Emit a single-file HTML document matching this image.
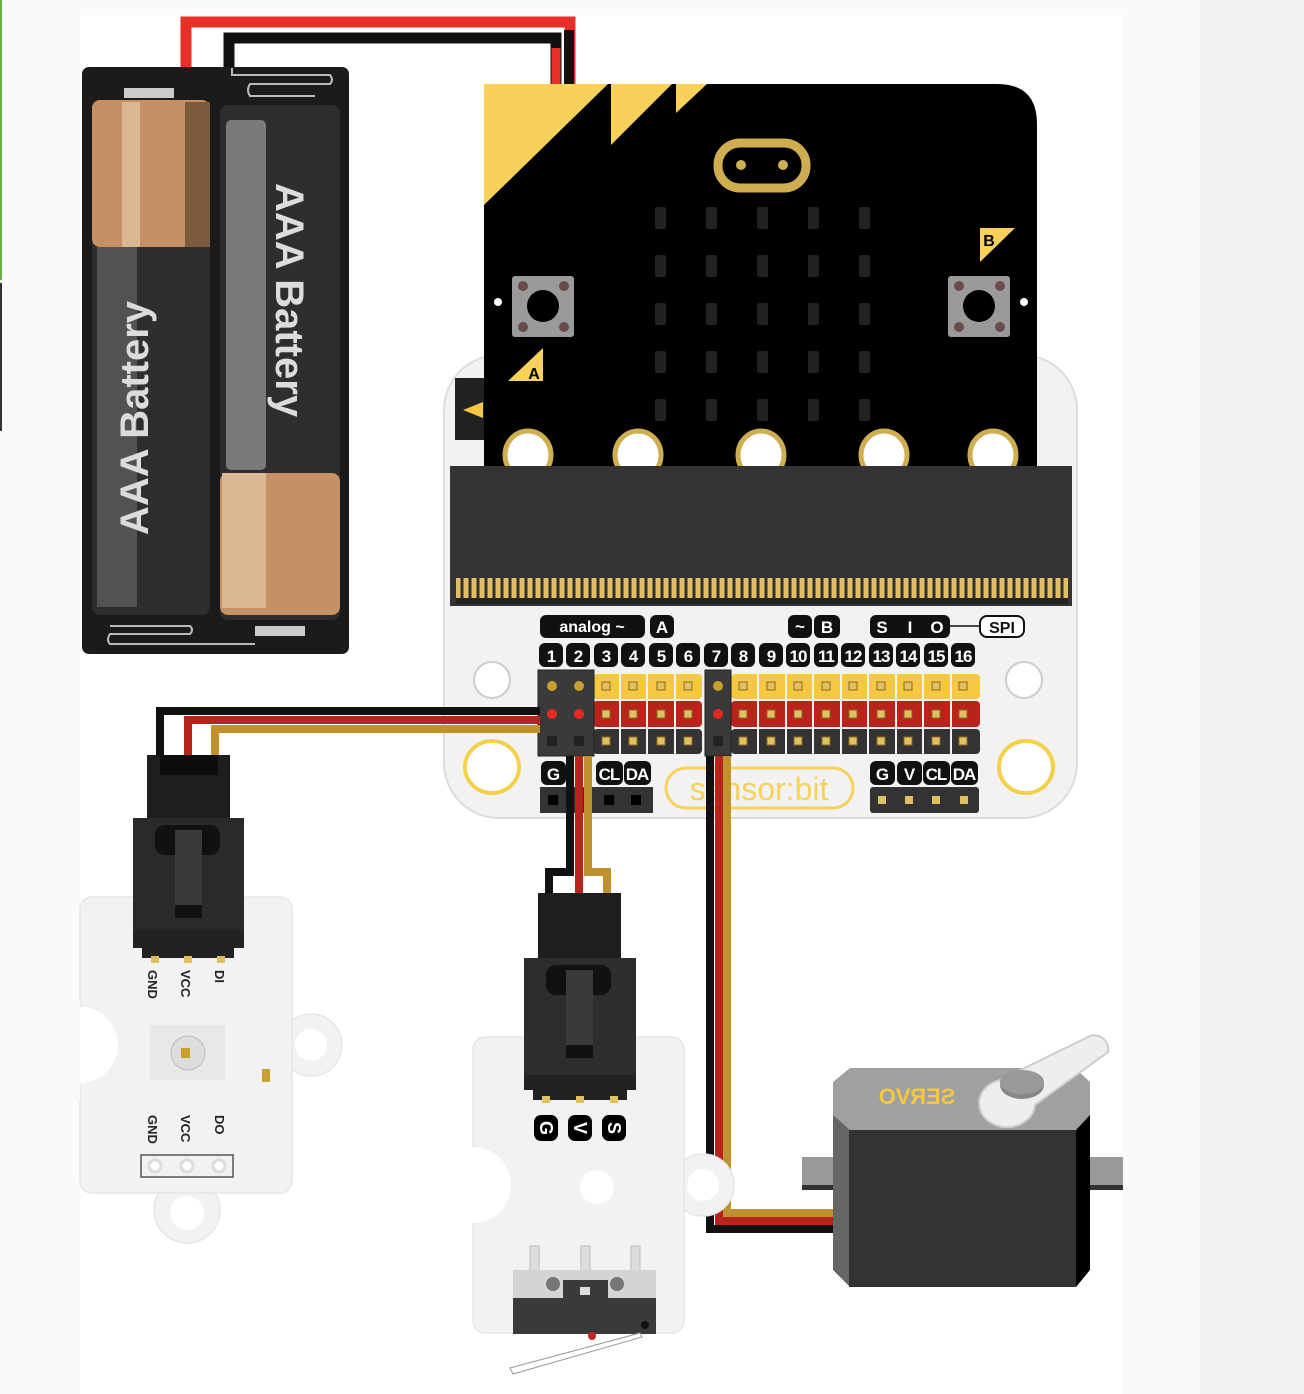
<!DOCTYPE html>
<html><head><meta charset="utf-8"><style>
html,body{margin:0;padding:0;background:#fafafa}
svg{display:block}
text{font-family:"Liberation Sans",sans-serif;font-weight:bold}
</style></head><body>
<svg width="1304" height="1394" viewBox="0 0 1304 1394" xmlns="http://www.w3.org/2000/svg">
<rect width="1304" height="1394" fill="#fafafa"/>
<rect x="80" y="15" width="1043" height="1379" fill="#ffffff"/>
<rect x="1200" y="0" width="104" height="1394" fill="#f1f1f1"/>

<!-- battery wires -->
<polyline points="186,70 186,22 570,22 570,84" fill="none" stroke="#e8302a" stroke-width="11"/>
<polyline points="229,70 229,38 556,38 556,84" fill="none" stroke="#111" stroke-width="11"/>
<line x1="556" y1="48" x2="556" y2="84" stroke="#e8302a" stroke-width="9"/>
<line x1="569" y1="30" x2="569" y2="84" stroke="#111" stroke-width="10"/>

<!-- battery holder -->
<rect x="82" y="67" width="267" height="587" rx="7" fill="#1b1b1b"/>
<rect x="92" y="100" width="118" height="515" rx="8" fill="#2e2e2e"/>
<rect x="92" y="100" width="118" height="147" rx="8" fill="#c59064"/>
<rect x="122" y="102" width="18" height="145" fill="#dbb894"/>
<rect x="185" y="102" width="25" height="145" fill="#7c5a3c"/>
<rect x="97" y="247" width="40" height="360" fill="#6a6a6a" opacity="0.6"/>
<rect x="220" y="105" width="120" height="515" rx="8" fill="#2e2e2e"/>
<rect x="226" y="120" width="40" height="350" rx="5" fill="#7a7a7a"/>
<rect x="220" y="473" width="120" height="142" rx="8" fill="#c59064"/>
<rect x="222" y="473" width="44" height="135" fill="#dbb894"/>
<rect x="124" y="88" width="50" height="10" fill="#ccc"/>
<rect x="255" y="626" width="50" height="10" fill="#ccc"/>
<path d="M232,68 L232,75 L330,75 Q334,80 330,84 L250,84 Q246,90 250,96 L315,96" fill="none" stroke="#bbb" stroke-width="2"/>
<path d="M110,626 L190,626 Q194,630 190,634 L110,634 Q106,640 110,644 L255,644" fill="none" stroke="#bbb" stroke-width="2"/>
<text x="0" y="0" transform="translate(148,418) rotate(-90)" font-size="40" fill="#dcdcdc" text-anchor="middle">AAA Battery</text>
<text x="0" y="0" transform="translate(276,300) rotate(90)" font-size="40" fill="#dcdcdc" text-anchor="middle">AAA Battery</text>

<!-- expansion board -->
<rect x="444" y="355" width="633" height="463" rx="55" fill="#f2f2f2" stroke="#ddd" stroke-width="2"/>
<rect x="455" y="378" width="30" height="62" fill="#222"/>
<polygon points="463,410 483,402 483,418" fill="#f5c842"/>
<path d="M484,124 Q484,84 524,84 L997,84 Q1037,84 1037,124 L1037,470 L484,470 Z" fill="#000"/>
<polygon points="484,84 608,84 484,205" fill="#f7d15a"/>
<polygon points="611,84 672,84 611,145" fill="#f7d15a"/>
<polygon points="676,84 707,84 676,113" fill="#f7d15a"/>
<rect x="718" y="143" width="88" height="45" rx="22" fill="none" stroke="#cfae52" stroke-width="9"/>
<circle cx="741" cy="165" r="5" fill="#cfae52"/><circle cx="783" cy="165" r="5" fill="#cfae52"/>
<g fill="#222">
<rect x="655" y="207" width="11" height="22" rx="2"/><rect x="706" y="207" width="11" height="22" rx="2"/><rect x="757" y="207" width="11" height="22" rx="2"/><rect x="808" y="207" width="11" height="22" rx="2"/><rect x="859" y="207" width="11" height="22" rx="2"/>
<rect x="655" y="255" width="11" height="22" rx="2"/><rect x="706" y="255" width="11" height="22" rx="2"/><rect x="757" y="255" width="11" height="22" rx="2"/><rect x="808" y="255" width="11" height="22" rx="2"/><rect x="859" y="255" width="11" height="22" rx="2"/>
<rect x="655" y="303" width="11" height="22" rx="2"/><rect x="706" y="303" width="11" height="22" rx="2"/><rect x="757" y="303" width="11" height="22" rx="2"/><rect x="808" y="303" width="11" height="22" rx="2"/><rect x="859" y="303" width="11" height="22" rx="2"/>
<rect x="655" y="351" width="11" height="22" rx="2"/><rect x="706" y="351" width="11" height="22" rx="2"/><rect x="757" y="351" width="11" height="22" rx="2"/><rect x="808" y="351" width="11" height="22" rx="2"/><rect x="859" y="351" width="11" height="22" rx="2"/>
<rect x="655" y="399" width="11" height="22" rx="2"/><rect x="706" y="399" width="11" height="22" rx="2"/><rect x="757" y="399" width="11" height="22" rx="2"/><rect x="808" y="399" width="11" height="22" rx="2"/><rect x="859" y="399" width="11" height="22" rx="2"/>
</g>
<rect x="512" y="276" width="62" height="61" rx="3" fill="#9a9a9a"/>
<circle cx="543" cy="306" r="16" fill="#000"/>
<g fill="#6a4a4a"><circle cx="523" cy="286" r="5"/><circle cx="564" cy="286" r="5"/><circle cx="523" cy="327" r="5"/><circle cx="564" cy="327" r="5"/></g>
<rect x="948" y="276" width="62" height="61" rx="3" fill="#9a9a9a"/>
<circle cx="979" cy="306" r="16" fill="#000"/>
<g fill="#6a4a4a"><circle cx="959" cy="286" r="5"/><circle cx="1000" cy="286" r="5"/><circle cx="959" cy="327" r="5"/><circle cx="1000" cy="327" r="5"/></g>
<circle cx="498" cy="302" r="4" fill="#fff"/><circle cx="1024" cy="302" r="4" fill="#fff"/>
<polygon points="508,381 543,381 543,348" fill="#f7d15a"/>
<text x="534" y="379" font-size="16" fill="#000" text-anchor="middle">A</text>
<polygon points="980,228 1015,228 980,262" fill="#f7d15a"/>
<text x="989" y="246" font-size="16" fill="#000" text-anchor="middle">B</text>
<g fill="#fff" stroke="#cfae52" stroke-width="5">
<ellipse cx="528" cy="455" rx="23" ry="24"/><ellipse cx="638" cy="455" rx="23" ry="24"/><ellipse cx="761" cy="455" rx="23" ry="24"/><ellipse cx="884" cy="455" rx="23" ry="24"/><ellipse cx="993" cy="455" rx="23" ry="24"/>
</g>
<rect x="450" y="466" width="622" height="140" fill="#333"/>
<rect x="456" y="578" width="612" height="22" fill="#e0c060"/>
<g stroke="#333" stroke-width="3">
<path d="M462,578v22M470,578v22M478,578v22M486,578v22M494,578v22M502,578v22M510,578v22M518,578v22M526,578v22M534,578v22M542,578v22M550,578v22M558,578v22M566,578v22M574,578v22M582,578v22M590,578v22M598,578v22M606,578v22M614,578v22M622,578v22M630,578v22M638,578v22M646,578v22M654,578v22M662,578v22M670,578v22M678,578v22M686,578v22M694,578v22M702,578v22M710,578v22M718,578v22M726,578v22M734,578v22M742,578v22M750,578v22M758,578v22M766,578v22M774,578v22M782,578v22M790,578v22M798,578v22M806,578v22M814,578v22M822,578v22M830,578v22M838,578v22M846,578v22M854,578v22M862,578v22M870,578v22M878,578v22M886,578v22M894,578v22M902,578v22M910,578v22M918,578v22M926,578v22M934,578v22M942,578v22M950,578v22M958,578v22M966,578v22M974,578v22M982,578v22M990,578v22M998,578v22M1006,578v22M1014,578v22M1022,578v22M1030,578v22M1038,578v22M1046,578v22M1054,578v22M1062,578v22"/>
</g>
<rect x="456" y="598" width="612" height="6" fill="#222"/>

<rect x="540" y="615" width="105" height="23" rx="6" fill="#111"/>
<text x="592" y="632" font-size="16" fill="#fff" text-anchor="middle">analog ~</text>
<rect x="650" y="615" width="24" height="23" rx="6" fill="#111"/><text x="662" y="633" font-size="17" fill="#fff" text-anchor="middle">A</text>
<rect x="788" y="615" width="24" height="23" rx="6" fill="#111"/><text x="800" y="632" font-size="17" fill="#fff" text-anchor="middle">~</text>
<rect x="814" y="615" width="26" height="23" rx="6" fill="#111"/><text x="827" y="633" font-size="17" fill="#fff" text-anchor="middle">B</text>
<rect x="870" y="615" width="80" height="23" rx="6" fill="#111"/>
<text x="882" y="633" font-size="17" fill="#fff" text-anchor="middle">S</text><text x="910" y="633" font-size="17" fill="#fff" text-anchor="middle">I</text><text x="937" y="633" font-size="17" fill="#fff" text-anchor="middle">O</text>
<line x1="950" y1="626" x2="980" y2="626" stroke="#111" stroke-width="1.5"/>
<rect x="980" y="616" width="44" height="21" rx="7" fill="#fff" stroke="#111" stroke-width="2"/>
<text x="1002" y="633" font-size="16" fill="#111" text-anchor="middle">SPI</text>
<g font-size="17" fill="#fff" text-anchor="middle" letter-spacing="-1">
<rect x="539" y="643" width="24" height="24" rx="6" fill="#111"/><text x="551" y="662">1</text>
<rect x="566" y="643" width="24" height="24" rx="6" fill="#111"/><text x="578" y="662">2</text>
<rect x="594" y="643" width="24" height="24" rx="6" fill="#111"/><text x="606" y="662">3</text>
<rect x="621" y="643" width="24" height="24" rx="6" fill="#111"/><text x="633" y="662">4</text>
<rect x="649" y="643" width="24" height="24" rx="6" fill="#111"/><text x="661" y="662">5</text>
<rect x="676" y="643" width="24" height="24" rx="6" fill="#111"/><text x="688" y="662">6</text>
<rect x="704" y="643" width="24" height="24" rx="6" fill="#111"/><text x="716" y="662">7</text>
<rect x="731" y="643" width="24" height="24" rx="6" fill="#111"/><text x="743" y="662">8</text>
<rect x="759" y="643" width="24" height="24" rx="6" fill="#111"/><text x="771" y="662">9</text>
<rect x="786" y="643" width="24" height="24" rx="6" fill="#111"/><text x="798" y="662">10</text>
<rect x="814" y="643" width="24" height="24" rx="6" fill="#111"/><text x="826" y="662">11</text>
<rect x="841" y="643" width="24" height="24" rx="6" fill="#111"/><text x="853" y="662">12</text>
<rect x="869" y="643" width="24" height="24" rx="6" fill="#111"/><text x="881" y="662">13</text>
<rect x="896" y="643" width="24" height="24" rx="6" fill="#111"/><text x="908" y="662">14</text>
<rect x="924" y="643" width="24" height="24" rx="6" fill="#111"/><text x="936" y="662">15</text>
<rect x="951" y="643" width="24" height="24" rx="6" fill="#111"/><text x="963" y="662">16</text>
</g>
<rect x="593" y="674" width="109" height="25" rx="4" fill="#f5c842"/>
<rect x="731" y="674" width="249" height="25" rx="4" fill="#f5c842"/>
<rect x="593" y="701" width="109" height="26" rx="4" fill="#b8241c"/>
<rect x="731" y="701" width="249" height="26" rx="4" fill="#b8241c"/>
<rect x="593" y="729" width="109" height="25" rx="4" fill="#333"/>
<rect x="731" y="729" width="249" height="25" rx="4" fill="#333"/>
<g fill="#e0c060" stroke="#8a6a20" stroke-width="1">
<rect x="602" y="682" width="8" height="8"/><rect x="629" y="682" width="8" height="8"/><rect x="657" y="682" width="8" height="8"/><rect x="684" y="682" width="8" height="8"/>
<rect x="602" y="710" width="8" height="8"/><rect x="629" y="710" width="8" height="8"/><rect x="657" y="710" width="8" height="8"/><rect x="684" y="710" width="8" height="8"/>
<rect x="602" y="737" width="8" height="8"/><rect x="629" y="737" width="8" height="8"/><rect x="657" y="737" width="8" height="8"/><rect x="684" y="737" width="8" height="8"/>
<rect x="739" y="682" width="8" height="8"/><rect x="767" y="682" width="8" height="8"/><rect x="794" y="682" width="8" height="8"/><rect x="822" y="682" width="8" height="8"/><rect x="849" y="682" width="8" height="8"/><rect x="877" y="682" width="8" height="8"/><rect x="904" y="682" width="8" height="8"/><rect x="932" y="682" width="8" height="8"/><rect x="959" y="682" width="8" height="8"/>
<rect x="739" y="710" width="8" height="8"/><rect x="767" y="710" width="8" height="8"/><rect x="794" y="710" width="8" height="8"/><rect x="822" y="710" width="8" height="8"/><rect x="849" y="710" width="8" height="8"/><rect x="877" y="710" width="8" height="8"/><rect x="904" y="710" width="8" height="8"/><rect x="932" y="710" width="8" height="8"/><rect x="959" y="710" width="8" height="8"/>
<rect x="739" y="737" width="8" height="8"/><rect x="767" y="737" width="8" height="8"/><rect x="794" y="737" width="8" height="8"/><rect x="822" y="737" width="8" height="8"/><rect x="849" y="737" width="8" height="8"/><rect x="877" y="737" width="8" height="8"/><rect x="904" y="737" width="8" height="8"/><rect x="932" y="737" width="8" height="8"/><rect x="959" y="737" width="8" height="8"/>
</g>
<g stroke="#f2f2f2" stroke-width="2">
<path d="M620,674v80M647,674v80M675,674v80M758,674v80M786,674v80M813,674v80M841,674v80M868,674v80M896,674v80M923,674v80M951,674v80"/>
</g>
<circle cx="492" cy="680" r="18" fill="#fff" stroke="#ccc" stroke-width="2"/>
<circle cx="1024" cy="680" r="18" fill="#fff" stroke="#ccc" stroke-width="2"/>
<ellipse cx="492" cy="767" rx="27" ry="26" fill="#fff" stroke="#f5d04a" stroke-width="4"/>
<ellipse cx="1026" cy="767" rx="27" ry="26" fill="#fff" stroke="#f5d04a" stroke-width="4"/>
<g font-size="17" fill="#fff" text-anchor="middle" letter-spacing="-1">
<rect x="541" y="761" width="25" height="24" rx="6" fill="#111"/><text x="553" y="780">G</text>
<rect x="596" y="761" width="27" height="24" rx="6" fill="#111"/><text x="609" y="780">CL</text>
<rect x="624" y="761" width="27" height="24" rx="6" fill="#111"/><text x="637" y="780">DA</text>
<rect x="870" y="761" width="25" height="24" rx="6" fill="#111"/><text x="882" y="780">G</text>
<rect x="897" y="761" width="25" height="24" rx="6" fill="#111"/><text x="909" y="780">V</text>
<rect x="923" y="761" width="27" height="24" rx="6" fill="#111"/><text x="936" y="780">CL</text>
<rect x="951" y="761" width="27" height="24" rx="6" fill="#111"/><text x="964" y="780">DA</text>
</g>
<rect x="540" y="787" width="113" height="26" fill="#333"/>
<g fill="#000"><rect x="548" y="795" width="10" height="10"/><rect x="604" y="795" width="10" height="10"/><rect x="631" y="795" width="10" height="10"/></g>
<rect x="870" y="787" width="109" height="26" rx="3" fill="#333"/>
<g fill="#e0c060"><rect x="878" y="796" width="8" height="8"/><rect x="905" y="796" width="8" height="8"/><rect x="932" y="796" width="8" height="8"/><rect x="960" y="796" width="8" height="8"/></g>
<rect x="666" y="768" width="187" height="40" rx="20" fill="none" stroke="#f7d15a" stroke-width="3"/>
<text x="759" y="800" font-size="32" fill="#f7d15a" text-anchor="middle" style="font-weight:normal">sensor:bit</text>

<rect x="538" y="670" width="56" height="86" fill="#3a3a3a" stroke="#222" stroke-width="1"/>
<rect x="705" y="670" width="26" height="86" fill="#3a3a3a" stroke="#222" stroke-width="1"/>
<g><circle cx="552" cy="686" r="5" fill="#c9a030"/><circle cx="579" cy="686" r="5" fill="#c9a030"/><circle cx="718" cy="686" r="5" fill="#c9a030"/>
<circle cx="552" cy="714" r="5" fill="#e62a20"/><circle cx="579" cy="714" r="5" fill="#e62a20"/><circle cx="718" cy="714" r="5" fill="#e62a20"/>
<rect x="547" y="736" width="10" height="10" fill="#222"/><rect x="574" y="736" width="10" height="10" fill="#222"/><rect x="713" y="736" width="10" height="10" fill="#222"/></g>

<polyline points="540,711 160,711 160,760" fill="none" stroke="#111" stroke-width="8"/>
<polyline points="540,720 188,720 188,760" fill="none" stroke="#b8241c" stroke-width="8"/>
<polyline points="540,729 215,729 215,760" fill="none" stroke="#c0922e" stroke-width="8"/>
<polyline points="570,756 570,872 549,872 549,895" fill="none" stroke="#111" stroke-width="8"/>
<polyline points="579,756 579,895" fill="none" stroke="#b8241c" stroke-width="8"/>
<polyline points="588,756 588,872 607,872 607,895" fill="none" stroke="#c0922e" stroke-width="8"/>
<polyline points="710,756 710,1229 836,1229" fill="none" stroke="#111" stroke-width="8"/>
<polyline points="719,756 719,1221 836,1221" fill="none" stroke="#b8241c" stroke-width="8"/>
<polyline points="727,756 727,1213 836,1213" fill="none" stroke="#c0922e" stroke-width="8"/>

<!-- module 1 pcb -->
<g fill="#f2f2f2" stroke="#e6e6e6" stroke-width="1.5">
<circle cx="311" cy="1045" r="31"/>
<circle cx="187" cy="1210" r="33"/>
<rect x="80" y="897" width="212" height="296" rx="12"/>
</g>
<circle cx="80" cy="1045" r="38" fill="#fff"/>
<rect x="0" y="1000" width="80" height="100" fill="#fafafa"/>
<rect x="0" y="0" width="2" height="280" fill="#6ab04c"/>
<rect x="0" y="283" width="2" height="148" fill="#333"/>
<circle cx="311" cy="1045" r="16" fill="#fff"/>
<circle cx="187" cy="1213" r="17" fill="#fff"/>
<rect x="150" y="1025" width="75" height="55" fill="#e8e8e8"/>
<circle cx="188" cy="1053" r="17" fill="#ddd" stroke="#bbb"/>
<rect x="181" y="1048" width="9" height="10" fill="#c9a030"/>
<rect x="262" y="1069" width="8" height="13" fill="#c9a030"/>
<g font-size="13" fill="#222" style="font-weight:normal">
<text transform="translate(148,970) rotate(90)">GND</text>
<text transform="translate(181,970) rotate(90)">VCC</text>
<text transform="translate(215,970) rotate(90)">DI</text>
<text transform="translate(148,1115) rotate(90)">GND</text>
<text transform="translate(181,1115) rotate(90)">VCC</text>
<text transform="translate(215,1115) rotate(90)">DO</text>
</g>
<rect x="141" y="1155" width="92" height="22" fill="#f2f2f2" stroke="#555" stroke-width="1.5"/>
<g fill="#fff" stroke="#ddd" stroke-width="3"><circle cx="155" cy="1166" r="6"/><circle cx="187" cy="1166" r="6"/><circle cx="219" cy="1166" r="6"/></g>
<rect x="147" y="755" width="83" height="66" fill="#1e1e1e"/>
<rect x="160" y="755" width="58" height="20" fill="#0d0d0d"/>
<rect x="133" y="818" width="111" height="130" fill="#2a2a2a"/>
<rect x="133" y="930" width="111" height="18" fill="#222"/>
<rect x="155" y="825" width="65" height="30" rx="10" fill="#111"/>
<rect x="175" y="830" width="27" height="88" fill="#3a3a3a"/>
<rect x="175" y="905" width="27" height="13" fill="#111"/>
<rect x="142" y="948" width="92" height="10" fill="#222"/>
<g fill="#e0c060"><rect x="151" y="956" width="8" height="7"/><rect x="184" y="956" width="8" height="7"/><rect x="217" y="956" width="8" height="7"/></g>

<!-- module 2 pcb -->
<g fill="#f2f2f2" stroke="#e6e6e6" stroke-width="1.5">
<circle cx="703" cy="1185" r="31"/>
<rect x="473" y="1037" width="211" height="296" rx="12"/>
</g>
<circle cx="473" cy="1185" r="38" fill="#fff"/>
<circle cx="703" cy="1185" r="16" fill="#fff"/>
<circle cx="597" cy="1187" r="17" fill="#fff"/>
<rect x="538" y="893" width="83" height="68" fill="#1e1e1e"/>
<rect x="524" y="958" width="112" height="132" fill="#2d2d2d"/>
<rect x="524" y="1075" width="112" height="15" fill="#222"/>
<rect x="546" y="965" width="65" height="30" rx="10" fill="#111"/>
<rect x="566" y="970" width="27" height="88" fill="#3a3a3a"/>
<rect x="566" y="1045" width="27" height="13" fill="#111"/>
<rect x="533" y="1090" width="94" height="10" fill="#222"/>
<g fill="#e0c060"><rect x="542" y="1096" width="8" height="7"/><rect x="576" y="1096" width="8" height="7"/><rect x="610" y="1096" width="8" height="7"/></g>
<g font-size="18" fill="#fff" text-anchor="middle">
<rect x="534" y="1115" width="24" height="26" rx="7" fill="#000"/><text transform="translate(540,1128) rotate(90)">G</text>
<rect x="568" y="1115" width="24" height="26" rx="7" fill="#000"/><text transform="translate(574,1128) rotate(90)">V</text>
<rect x="602" y="1115" width="24" height="26" rx="7" fill="#000"/><text transform="translate(608,1128) rotate(90)">S</text>
</g>
<g fill="#ddd" stroke="#bbb"><rect x="530" y="1246" width="9" height="30"/><rect x="581" y="1246" width="9" height="30"/><rect x="631" y="1246" width="9" height="30"/></g>
<rect x="513" y="1270" width="143" height="30" fill="#d4d4d4"/>
<rect x="513" y="1298" width="143" height="36" fill="#3a3a3a"/>
<rect x="563" y="1280" width="45" height="20" fill="#3a3a3a"/>
<rect x="580" y="1287" width="10" height="8" fill="#ddd"/>
<circle cx="553" cy="1284" r="7" fill="#777"/><circle cx="617" cy="1284" r="7" fill="#777"/>
<circle cx="645" cy="1325" r="4" fill="#111"/>
<circle cx="592" cy="1336" r="4" fill="#c0281e"/>
<polygon points="510,1368 640,1333 642,1337 513,1374" fill="#fff" stroke="#999"/>

<!-- servo -->
<rect x="802" y="1157" width="321" height="28" fill="#999"/>
<rect x="802" y="1185" width="321" height="5" fill="#333"/>
<polygon points="850,1068 1075,1068 1090,1082 1090,1130 833,1130 833,1082" fill="#a0a0a0"/>
<polygon points="833,1115 850,1130 850,1287 833,1270" fill="#666"/>
<polygon points="1076,1130 1090,1115 1090,1270 1076,1287" fill="#000"/>
<rect x="849" y="1130" width="227" height="157" fill="#333"/>
<text transform="translate(917,1104) scale(-1,1)" font-size="22" fill="#f5c842" text-anchor="middle" font-family="Liberation Mono,monospace">SERVO</text>
<path d="M1000,1080 L1090,1036 A14,14 0 0 1 1108,1052 L1035,1105 A28,24 0 1 1 1000,1080Z" fill="#eee" stroke="#ccc" stroke-width="2"/>
<ellipse cx="1022" cy="1085" rx="22" ry="14" fill="#888"/>
<ellipse cx="1022" cy="1082" rx="22" ry="12" fill="#999"/>
</svg>
</body></html>
